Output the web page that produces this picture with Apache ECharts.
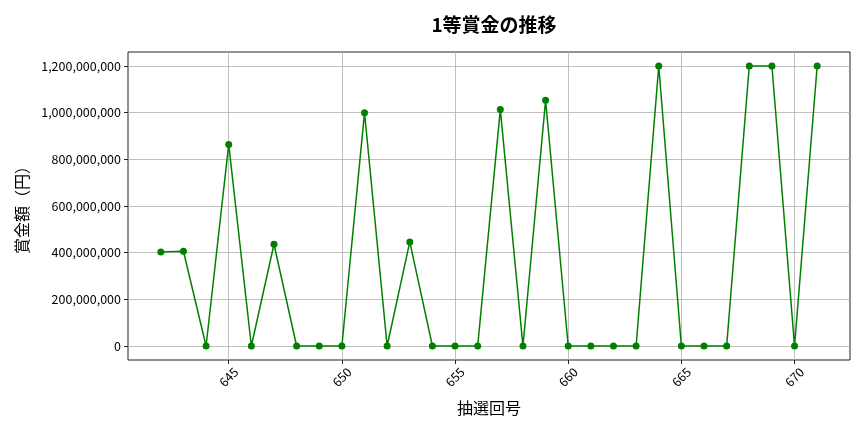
<!DOCTYPE html>
<html>
<head>
    <meta charset="utf-8">
    <script src="https://cdn.jsdelivr.net/npm/echarts@6/dist/echarts.min.js"></script>
</head>
<body style="margin:0">
    <div id="main" style="width:864px;height:432px;"></div>
    <script type="text/javascript">
        // 抽選回号と1等賞金
        var rounds = [642, 643, 644, 645, 646, 647, 648, 649, 650, 651,
                      652, 653, 654, 655, 656, 657, 658, 659, 660, 661,
                      662, 663, 664, 665, 666, 667, 668, 669, 670, 671];
        var prizes = [403000000, 406000000, 0, 864000000, 0, 436000000, 0, 0, 0, 1000000000,
                      0, 446000000, 0, 0, 0, 1014000000, 0, 1053000000, 0, 0,
                      0, 0, 1200000000, 0, 0, 0, 1200000000, 1200000000, 0, 1200000000];
        var xTicks = [645, 650, 655, 660, 665, 670];
        var yTicks = [0, 200000000, 400000000, 600000000, 800000000, 1000000000, 1200000000];

        var font = "'Noto Sans CJK JP', 'DejaVu Sans', sans-serif";
        var myChart = echarts.init(document.getElementById('main'));

        var points = [];
        for (var i = 0; i < rounds.length; i++) {
            points.push([rounds[i], prizes[i]]);
        }

        var option = {
            animation: false,
            title: {
                text: '1等賞金の推移',
                left: 489,
                textAlign: 'center',
                top: 10,
                textStyle: {fontFamily: font, fontSize: 19, fontWeight: 'bold', color: '#000'}
            },
            grid: {
                left: 128, right: 14, top: 52, bottom: 72,
                outerBoundsMode: 'none',
                containLabel: false,
                show: true,
                borderColor: '#222',
                borderWidth: 1
            },
            xAxis: {
                type: 'value',
                min: 640.55,
                max: 672.45,
                name: '抽選回号',
                nameLocation: 'middle',
                nameGap: 40,
                nameTextStyle: {fontFamily: font, fontSize: 16, color: '#000'},
                axisLine: {show: false, onZero: false},
                axisTick: {show: true, customValues: xTicks, length: 4, lineStyle: {color: '#222'}},
                axisLabel: {
                    customValues: xTicks,
                    rotate: 45,
                    align: 'center',
                    verticalAlign: 'middle',
                    fontFamily: font,
                    fontSize: 12.5,
                    color: '#000',
                    margin: 17
                },
                splitLine: {show: true, lineStyle: {color: '#b0b0b0', width: 0.8}}
            },
            yAxis: {
                type: 'value',
                min: -60000000,
                max: 1260000000,
                name: '賞金額（円）',
                nameLocation: 'middle',
                nameGap: 98,
                nameRotate: 90,
                nameTextStyle: {fontFamily: font, fontSize: 16, color: '#000'},
                axisLine: {show: false, onZero: false},
                axisTick: {show: true, customValues: yTicks, length: 4, lineStyle: {color: '#222'}},
                axisLabel: {
                    customValues: yTicks,
                    fontFamily: font,
                    fontSize: 12.5,
                    color: '#000',
                    margin: 7,
                    formatter: function (v) {
                        return v.toString().replace(/\B(?=(\d{3})+(?!\d))/g, ',');
                    }
                },
                splitLine: {show: true, lineStyle: {color: '#b0b0b0', width: 0.8}}
            },
            series: [{
                type: 'line',
                data: points,
                symbol: 'circle',
                symbolSize: 7,
                itemStyle: {color: '#008000'},
                lineStyle: {color: '#008000', width: 1.5}
            }]
        };
        myChart.setOption(option);
    </script>
</body>
</html>
